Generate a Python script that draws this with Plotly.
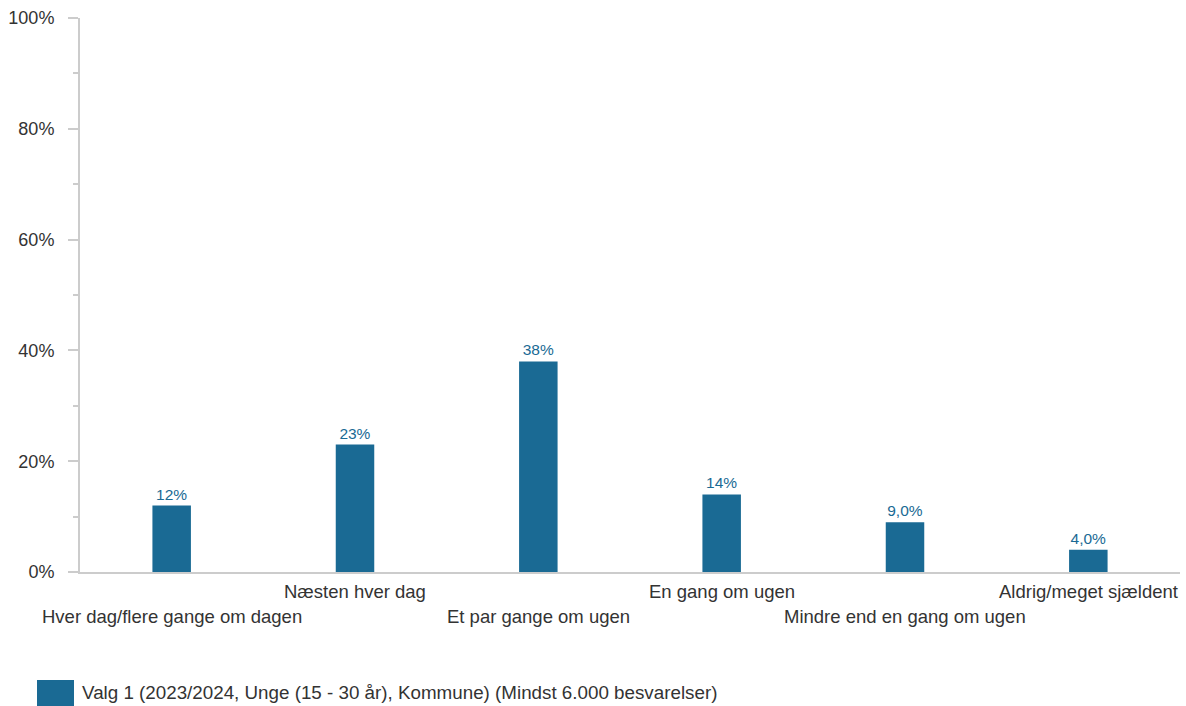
import plotly.graph_objects as go

categories = ["Hver dag/flere gange om dagen", "Næsten hver dag", "Et par gange om ugen",
              "En gang om ugen", "Mindre end en gang om ugen", "Aldrig/meget sjældent"]
values = [12, 23, 38, 14, 9.0, 4.0]
value_labels = ["12%", "23%", "38%", "14%", "9,0%", "4,0%"]
series_name = "Valg 1 (2023/2024, Unge (15 - 30 år), Kommune) (Mindst 6.000 besvarelser)"
y_ticks = [0, 20, 40, 60, 80, 100]
y_tick_labels = ["0%", "20%", "40%", "60%", "80%", "100%"]

BAR = "#1a6a94"
FONT = "Liberation Sans, Arial, sans-serif"
TXT = "#333333"

fig = go.Figure()
fig.add_trace(go.Bar(
    x=categories, y=values, name=series_name,
    marker=dict(color=BAR, line=dict(width=0)),
    width=0.21,
    text=value_labels, textposition="outside",
    textfont=dict(family=FONT, size=15.5, color=BAR),
    cliponaxis=False, showlegend=False,
))

for i, c in enumerate(categories):
    fig.add_annotation(x=c, xref="x", y=0, yref="paper", yanchor="middle",
                       yshift=-44 if i % 2 == 0 else -19,
                       text=c, showarrow=False,
                       font=dict(family=FONT, size=18.5, color=TXT))

# legend swatch & text
fig.add_shape(type="rect", xref="paper", yref="paper",
              x0=-43/1100, x1=-6/1100, y0=-108/554, y1=-134/554,
              fillcolor=BAR, line=dict(width=0))
fig.add_annotation(x=0, xref="paper", y=-120/554, yref="paper",
                   xanchor="left", yanchor="middle", text=series_name,
                   showarrow=False, font=dict(family=FONT, size=18.8, color=TXT))

fig.update_layout(
    width=1186, height=706,
    margin=dict(l=80, r=6, t=18, b=134),
    plot_bgcolor="white", paper_bgcolor="white",
    font=dict(family=FONT, size=18, color=TXT),
    bargap=0.79,
    xaxis=dict(showticklabels=False, showline=True, linecolor="#cccccc", linewidth=2,
               range=[-0.5, len(categories) - 0.5], autorange=False,
               ticks="", showgrid=False, zeroline=False, fixedrange=True),
    yaxis=dict(range=[0, 100], autorange=False, tickvals=y_ticks, ticktext=y_tick_labels,
               showline=True, linecolor="#cccccc", linewidth=2,
               ticks="outside", ticklen=10, tickcolor="#cccccc", tickwidth=2,
               showgrid=False, zeroline=False, ticklabelstandoff=10,
               minor=dict(dtick=10, ticks="outside", ticklen=5, tickcolor="#cccccc", tickwidth=2),
               tickfont=dict(family=FONT, size=18, color=TXT)),
)

fig.write_html("out.html", config={"displayModeBar": False},
               post_script="document.body.style.margin='0';document.body.style.overflow='hidden';")
